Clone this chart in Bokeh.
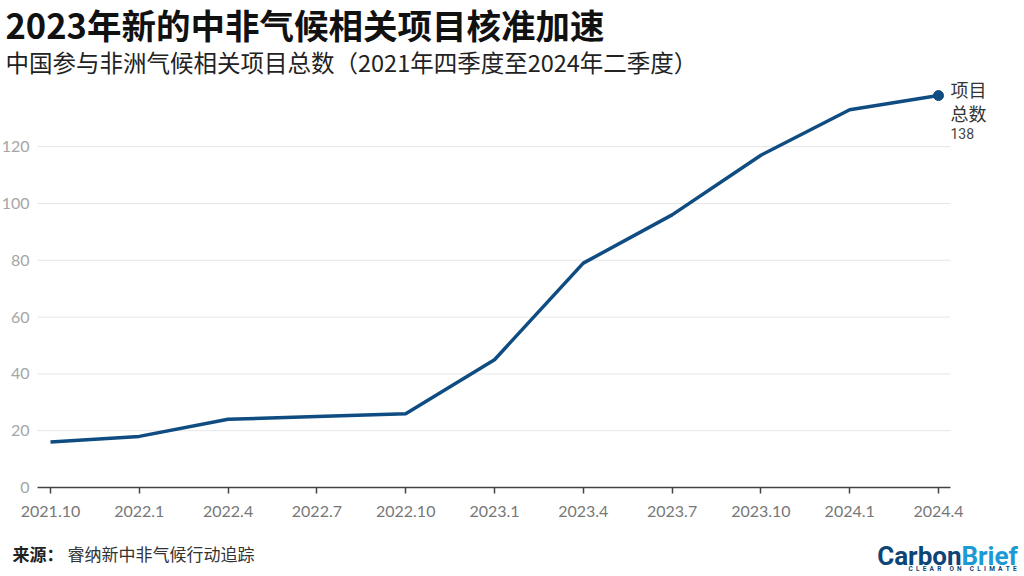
from bokeh.plotting import figure
from bokeh.models import Range1d, FixedTicker, Label
from bokeh.embed import file_html
from bokeh.resources import INLINE

quarters = ["2021.10", "2022.1", "2022.4", "2022.7", "2022.10", "2023.1",
            "2023.4", "2023.7", "2023.10", "2024.1", "2024.4"]
totals = [16, 18, 24, 25, 26, 45, 79, 96, 117, 133, 138]
y_ticks = [0, 20, 40, 60, 80, 100, 120]

title_text = "2023年新的中非气候相关项目核准加速"
subtitle_text = "中国参与非洲气候相关项目总数（2021年四季度至2024年二季度）"
end_label_1 = "项目"
end_label_2 = "总数"
source_head = "来源："
source_body = "睿纳新中非气候行动追踪"
logo_1, logo_2 = "Carbon", "Brief"
tagline_words = ["CLEAR", "ON", "CLIMATE"]

LINE = "#0f4c81"
CJK = "Noto Sans CJK SC"
NB = "\u00a0"

W, H = 1024, 576
# layout: pixel position of first category, px per category, px of y=0, px per unit
X0PX, XSTEP = 50, 88.8
Y0PX, YSTEP = 487, 2.84
AX_LEFT_PX, AX_RIGHT_PX = 37, 950

def xd(px):
    return (px - X0PX) / XSTEP

def yd(px):
    return (Y0PX - px) / YSTEP

xs = list(range(len(quarters)))

p = figure(width=W, height=H, output_backend="svg", toolbar_location=None,
           x_range=Range1d(xd(0), xd(W)), y_range=Range1d(yd(H), yd(0)),
           min_border=0, min_border_left=0, min_border_right=0,
           min_border_top=0, min_border_bottom=0)
p.outline_line_color = None
p.background_fill_color = "white"
p.border_fill_color = "white"

x_lo, x_hi = xd(AX_LEFT_PX), xd(AX_RIGHT_PX)

# horizontal gridlines (at the y ticks, over the axis span)
p.xgrid.grid_line_color = None
p.ygrid.grid_line_color = None
grid_y = [t for t in y_ticks if t > 0]
p.segment(x0=[x_lo] * len(grid_y), x1=[x_hi] * len(grid_y), y0=grid_y, y1=grid_y,
          line_color="#e6e6e6", line_width=1)

p.line(xs, totals, line_color=LINE, line_width=3.5)
p.scatter([xs[-1]], [totals[-1]], size=10, fill_color=LINE, line_color=LINE)

# x axis
xa = p.xaxis[0]
xa.fixed_location = 0
xa.bounds = (x_lo, x_hi)
xa.ticker = FixedTicker(ticks=xs)
xa.major_label_overrides = {i: q for i, q in enumerate(quarters)}
xa.axis_line_color = "#444444"
xa.axis_line_width = 1.5
xa.major_tick_line_color = "#444444"
xa.major_tick_line_width = 1.5
xa.major_tick_out = 6
xa.major_tick_in = 0
xa.minor_tick_line_color = None
xa.major_label_text_font = "Lato"
xa.major_label_text_font_size = "16px"
xa.major_label_text_color = "#777777"
xa.major_label_standoff = 12

# y axis
ya = p.yaxis[0]
ya.fixed_location = x_lo
ya.bounds = (0, max(y_ticks))
ya.ticker = FixedTicker(ticks=y_ticks)
ya.axis_line_color = None
ya.major_tick_line_color = None
ya.major_tick_out = 0
ya.major_tick_in = 0
ya.minor_tick_line_color = None
ya.major_label_text_font = "Lato"
ya.major_label_text_font_size = "16px"
ya.major_label_text_color = "#a6a6a6"
ya.major_label_standoff = 8

# end label
last_x, last_y = xs[-1], totals[-1]
p.add_layout(Label(x=last_x, y=last_y, x_offset=12, y_offset=7, text=end_label_1,
                   text_font=CJK, text_font_size="18px", text_color="#333333",
                   text_baseline="middle"))
p.add_layout(Label(x=last_x, y=last_y, x_offset=12, y_offset=-17, text=end_label_2,
                   text_font=CJK, text_font_size="18px", text_color="#333333",
                   text_baseline="middle"))
p.add_layout(Label(x=last_x, y=last_y, x_offset=12, y_offset=-38, text=str(last_y),
                   text_font="Roboto", text_font_size="14px", text_color="#444444",
                   text_baseline="middle"))

def scr(x_px, y_px, **kw):
    return Label(x=x_px, y=H - y_px, x_units="screen", y_units="screen", **kw)

# titles
p.add_layout(scr(5, 23, text=title_text, text_font=CJK, text_font_size="34.5px",
                 text_font_style="bold", text_color="#111111", text_baseline="middle"))
p.add_layout(scr(5, 61, text=subtitle_text, text_font=CJK, text_font_size="23.5px",
                 text_color="#222222", text_baseline="middle"))

# source
p.add_layout(scr(12, 553, text=source_head, text_font=CJK, text_font_size="17px",
                 text_font_style="bold", text_color="#222222", text_baseline="middle"))
p.add_layout(scr(67, 553, text=source_body, text_font=CJK, text_font_size="17px",
                 text_color="#333333", text_baseline="middle"))

# logo
p.add_layout(scr(961, 555, text=logo_1, text_font="Roboto",
                 text_font_size="26px", text_font_style="bold", text_color="#0d4577",
                 text_baseline="alphabetic", text_align="right"))
p.add_layout(scr(961, 555, text=logo_2, text_font="Roboto",
                 text_font_size="26px", text_font_style="bold", text_color="#1c9ad6",
                 text_baseline="alphabetic", text_align="left"))
tagline = (NB * 5).join((NB * 2).join(w) for w in tagline_words)
p.add_layout(scr(962, 568, text=tagline,
                 text_font="Roboto", text_font_size="6.5px",
                 text_font_style="bold", text_color="#0d4577",
                 text_baseline="middle", text_align="center"))

open("out.html", "w").write(file_html(p, INLINE))
